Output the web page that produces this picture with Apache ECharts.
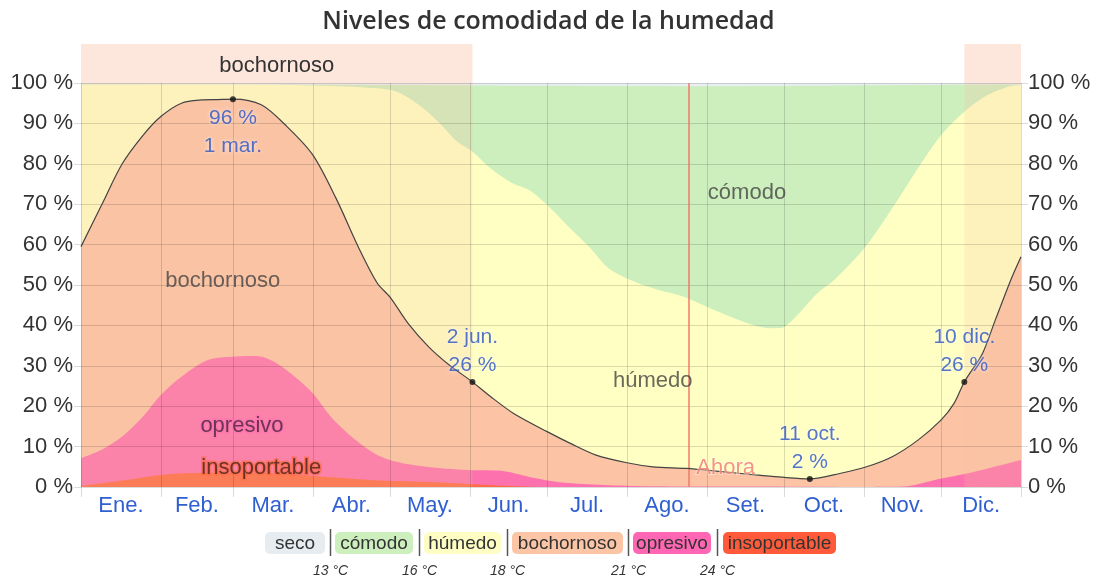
<!DOCTYPE html>
<html>
<head>
<meta charset="utf-8">
<script src="https://cdn.jsdelivr.net/npm/echarts@6/dist/echarts.min.js"></script>
<style>
  html, body { margin: 0; padding: 0; background: #fff; }
  #chart { width: 1097px; height: 583px; }
</style>
</head>
<body>
<div id="chart"></div>
<script>
// Humidity comfort levels over the year (x = day of year, y = % of time).
const monthNames = ['Ene.', 'Feb.', 'Mar.', 'Abr.', 'May.', 'Jun.', 'Jul.', 'Ago.', 'Set.', 'Oct.', 'Nov.', 'Dic.'];
const monthStarts = [0, 31, 59, 90, 120, 151, 181, 212, 243, 273, 304, 334, 365];

// Cumulative upper edge of each comfort band: [day, % of time at this level or worse]
const secoTop = [[0, 100], [365, 100]];
const comodoTop = [[0, 99.7], [120, 99.5], [180, 99.3], [240, 99.2], [300, 99.4], [365, 99.6]];
const humedoTop = [[0, 99.6], [60, 99.6], [90, 99.4], [100, 99.2], [110, 98.9], [120, 98.3], [126, 96.8], [133, 93.7],
  [140, 89.6], [146, 85.5], [152, 83], [159, 78.9], [167, 75.4], [174, 73.5], [181, 69.8], [190, 64], [198, 59],
  [205, 54.1], [215, 50.8], [224, 48.8], [234, 47.1], [243, 44.6], [252, 42.2], [261, 40.1], [268, 39.3], [272, 39.4],
  [277, 41.8], [286, 48], [292, 51], [304, 59], [315, 69], [325, 78.9], [334, 87.1], [343, 92.9], [352, 97],
  [360, 99.1], [365, 99.5]];
const bochornosoTop = [[0, 59.5], [8, 69.8], [16, 80], [24, 87], [31, 91.7], [39, 95], [47, 95.8], [53, 95.9], [59, 96],
  [70, 94.6], [80, 89.2], [90, 82.2], [99, 71.5], [108, 59], [115, 50.5], [120, 47], [127, 40.5], [135, 34.7],
  [143, 30.2], [152, 26], [159, 22.4], [168, 18.2], [181, 13.7], [190, 10.8], [200, 7.9], [212, 6], [222, 5],
  [235, 4.6], [249, 3.8], [262, 3], [271, 2.5], [283, 2], [295, 3.4], [305, 5], [315, 7.5], [325, 11.6], [334, 16.6],
  [339, 20.7], [343, 26], [350, 33], [355, 41.3], [361, 51.2], [365, 57]];
const opresivoTop = [[0, 7.1], [8, 9.2], [16, 12.5], [24, 17.4], [31, 22.8], [39, 27.3], [49, 31.4], [60, 32.3],
  [68, 32.4], [75, 31], [83, 27.3], [90, 23.2], [97, 17.4], [105, 12.5], [114, 8.3], [122, 6.3], [134, 5], [150, 4.2],
  [163, 4], [174, 2.5], [187, 1.1], [203, 0.5], [220, 0.2], [260, 0.1], [300, 0], [319, 0.1], [334, 2.1], [347, 3.8],
  [365, 6.7]];
const insoportableTop = [[0, 0.3], [17, 1.7], [31, 3], [49, 3.5], [69, 3.5], [90, 2.7], [114, 1.7], [134, 1.3],
  [152, 0.7], [165, 0.3], [180, 0], [340, 0], [365, 0.3]];

// Highlighted points on the muggy-or-worse curve
const annDays = [59, 152, 283, 343];
const annValues = [96, 26, 2, 26];
const annDates = ['1 mar.', '2 jun.', '11 oct.', '10 dic.'];

// Periods when the season is muggy: [startDay, endDay]
const bandRanges = [[0, 152], [343, 365]];
const bandNames = ['bochornoso', ''];

// Current day marker
const nowDay = 236;
const nowText = 'Ahora';

// Comfort categories and dew-point thresholds
const levelNames = ['seco', 'cómodo', 'húmedo', 'bochornoso', 'opresivo', 'insoportable'];
const thresholdLabels = ['13 °C', '16 °C', '18 °C', '21 °C', '24 °C'];

// ---- styling / layout ----
const FONT = '"Liberation Sans", Arial, sans-serif';
const areaColors = ['#e8eef1', '#cdeebd', '#ffffc4', '#fcc4a4', '#fd72ae', '#ff6a45'];
const legendColors = ['#e6ecef', '#cdeebd', '#fdfdc4', '#fcc5a5', '#ff66b3', '#ff5b3a'];
const legendBoxes = [[265, 325], [335, 413], [424, 501], [512, 623], [633, 711], [723, 836]];
const legendTop = 532, legendH = 22;
const gridColor = 'rgba(0,0,0,0.14)';
// label anchors inside the plot, [day, %]
const regionLabelAt = {
  'bochornoso': [55, 51], 'opresivo': [62.5, 15.1], 'insoportable': [70, 4.7], 'húmedo': [222, 26.2], 'cómodo': [258.6, 72.8]
};

const monthMids = monthStarts.slice(0, -1).map((s, i) => (s + monthStarts[i + 1]) / 2);
const topSeries = [secoTop, comodoTop, humedoTop, bochornosoTop, opresivoTop, insoportableTop];

const chart = echarts.init(document.getElementById('chart'), null, { renderer: 'canvas' });

const series = [];
topSeries.forEach((d, i) => {
  series.push({
    type: 'line', name: levelNames[i], data: d, smooth: 0.3, showSymbol: false, silent: true,
    xAxisIndex: 0, yAxisIndex: 0, z: 2,
    lineStyle: { width: 0 },
    areaStyle: { color: areaColors[i], opacity: 1, origin: 'start' }
  });
});

// tint over the muggy season
series.push({
  type: 'custom', xAxisIndex: 0, yAxisIndex: 0, z: 3, silent: true,
  data: bandRanges,
  renderItem: (params, api) => {
    const a = api.coord([api.value(0), 100]);
    const b = api.coord([api.value(1), 0]);
    return { type: 'rect', shape: { x: a[0], y: a[1], width: b[0] - a[0], height: b[1] - a[1] },
      style: { fill: 'rgba(245,190,160,0.22)' } };
  }
});

// band above the plot naming the season
series.push({
  type: 'custom', xAxisIndex: 1, yAxisIndex: 2, z: 3, silent: true,
  data: bandRanges,
  renderItem: (params, api) => {
    const a = api.coord([api.value(0), 1]);
    const b = api.coord([api.value(1), 0]);
    return {
      type: 'group', children: [
        { type: 'rect', shape: { x: a[0], y: a[1], width: b[0] - a[0], height: b[1] - a[1] }, style: { fill: '#fde6dc' } },
        { type: 'text', style: { text: bandNames[params.dataIndex], x: (a[0] + b[0]) / 2, y: (a[1] + b[1]) / 2 + 2,
          align: 'center', verticalAlign: 'middle', fill: '#333', font: '22px ' + FONT } }
      ]
    };
  }
});

// muggy-or-worse curve
series.push({
  type: 'line', data: bochornosoTop, smooth: 0.3, showSymbol: false, silent: true, z: 6,
  lineStyle: { color: '#444', width: 1.2 }
});

// current day
series.push({
  type: 'line', data: [], z: 6, silent: true,
  markLine: { symbol: 'none', silent: true, label: { show: false },
    lineStyle: { color: '#f07a6a', width: 1.5, type: 'solid' }, data: [{ xAxis: nowDay }] }
});

// region names inside the plot + "Ahora"
const glow = { 'opresivo': 'rgba(253,114,174,0.9)', 'insoportable': 'rgba(255,106,69,0.9)' };
const regionData = Object.keys(regionLabelAt).map(k => ({
  value: regionLabelAt[k], name: k,
  label: { color: k === 'opresivo' ? '#4a2340' : (k === 'insoportable' ? '#4a2318' : '#444'),
    textBorderColor: glow[k] || 'transparent', textBorderWidth: glow[k] ? 3 : 0 }
}));
regionData.push({ value: [nowDay, 4.7], name: nowText,
  label: { position: 'right', distance: 7, color: '#f27a6a', textBorderColor: 'rgba(255,255,255,0.5)', textBorderWidth: 2 } });
series.push({
  type: 'scatter', data: regionData, symbol: 'circle', symbolSize: 1, silent: true, z: 7,
  itemStyle: { color: 'transparent' },
  label: { show: true, position: 'inside', formatter: p => p.name, fontFamily: FONT, fontSize: 22 }
});

// highlighted points with labels
const maxIdx = annValues.indexOf(Math.max(...annValues));
series.push({
  type: 'scatter', z: 8, silent: true, symbolSize: 6, itemStyle: { color: '#111' },
  data: annDays.map((d, i) => ({
    value: [d, annValues[i]],
    label: i === maxIdx ? { position: 'bottom', distance: 2 } : { position: 'top', distance: 0 }
  })),
  label: {
    show: true, fontFamily: FONT, fontSize: 21, lineHeight: 28, color: '#2a52c6',
    textShadowColor: 'rgba(255,255,255,0.95)', textShadowBlur: 4,
    formatter: p => p.dataIndex === maxIdx
      ? annValues[p.dataIndex] + ' %\n' + annDates[p.dataIndex]
      : annDates[p.dataIndex] + '\n' + annValues[p.dataIndex] + ' %'
  }
});

// legend strip
const graphics = [];
levelNames.forEach((n, i) => {
  const [x0, x1] = legendBoxes[i];
  graphics.push({ type: 'rect', left: x0, top: legendTop, silent: true,
    shape: { width: x1 - x0, height: legendH, r: 5 }, style: { fill: legendColors[i] } });
  graphics.push({ type: 'text', x: (x0 + x1) / 2, y: legendTop + legendH / 2 + 1, silent: true,
    style: { text: n, align: 'center', verticalAlign: 'middle', fill: '#333', font: '19px ' + FONT } });
});
thresholdLabels.forEach((t, i) => {
  const sx = Math.round((legendBoxes[i][1] + legendBoxes[i + 1][0]) / 2) + 0.5;
  graphics.push({ type: 'line', silent: true, shape: { x1: sx, y1: 529, x2: sx, y2: 556 },
    style: { stroke: '#555', lineWidth: 1.5 } });
  graphics.push({ type: 'text', x: sx, y: 571, silent: true,
    style: { text: t, align: 'center', verticalAlign: 'middle', fill: '#333', font: 'italic 14px ' + FONT } });
});

const yAxisBase = {
  type: 'value', min: 0, max: 100, interval: 10, gridIndex: 0, z: 4,
  axisLine: { show: false },
  axisTick: { show: true, length: 7, lineStyle: { color: gridColor } },
  axisLabel: { formatter: '{value} %', fontFamily: FONT, fontSize: 22, color: '#333' }
};

chart.setOption({
  animation: false,
  title: {
    text: 'Niveles de comodidad de la humedad', left: 'center', top: 4,
    textStyle: { fontFamily: '"Open Sans", sans-serif', fontWeight: 600, fontSize: 25, color: '#333' }
  },
  grid: [
    { left: 81, right: 76, top: 83, bottom: 96 },
    { left: 81, right: 76, top: 44, height: 39 }
  ],
  xAxis: [
    {
      type: 'value', gridIndex: 0, min: 0, max: 365, z: 4,
      axisLine: { show: false },
      axisTick: { show: true, length: 10, customValues: monthStarts, lineStyle: { color: gridColor } },
      splitLine: { show: true, lineStyle: { color: gridColor } },
      axisLabel: {
        customValues: monthMids, margin: 8, fontFamily: FONT, fontSize: 22, color: '#3060d0',
        formatter: v => {
          let best = 0;
          monthMids.forEach((m, i) => { if (Math.abs(m - v) < Math.abs(monthMids[best] - v)) best = i; });
          return monthNames[best];
        }
      }
    },
    { type: 'value', gridIndex: 1, min: 0, max: 365, show: false }
  ],
  yAxis: [
    Object.assign({}, yAxisBase, { position: 'left', splitLine: { show: true, lineStyle: { color: gridColor } },
      axisLabel: Object.assign({}, yAxisBase.axisLabel, { margin: 8 }) }),
    Object.assign({}, yAxisBase, { position: 'right', splitLine: { show: false },
      axisLabel: Object.assign({}, yAxisBase.axisLabel, { margin: 7 }) }),
    { type: 'value', gridIndex: 1, min: 0, max: 1, show: false }
  ],
  series: series,
  graphic: graphics
});
</script>
</body>
</html>
